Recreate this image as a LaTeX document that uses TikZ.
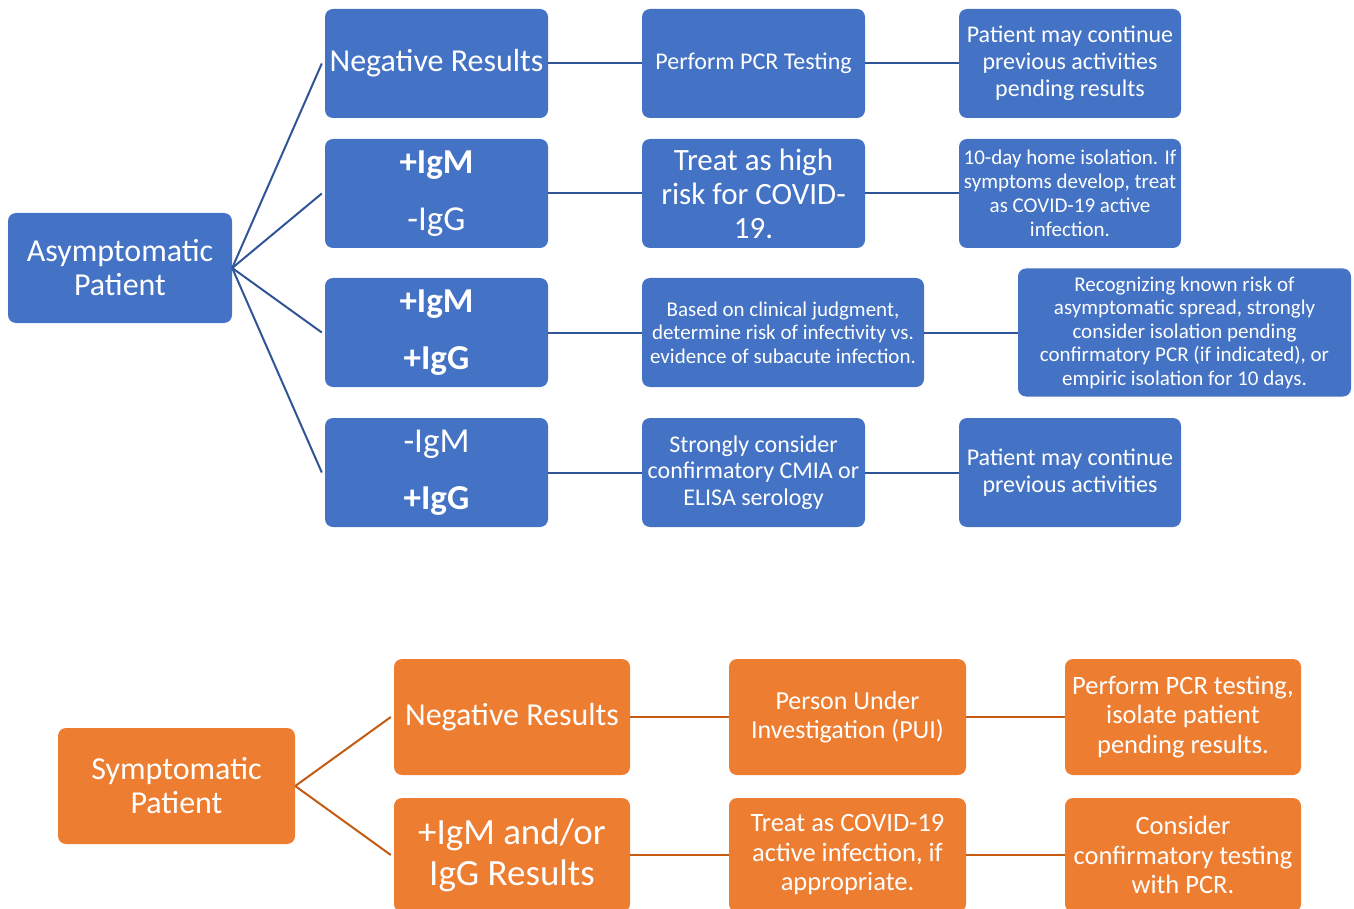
\documentclass[tikz,border=0pt]{standalone}
\usepackage{fontspec}
\setmainfont{Carlito}
\definecolor{boxblue}{HTML}{4472C4}
\definecolor{lineblue}{HTML}{2F5597}
\definecolor{boxorange}{HTML}{ED7D31}
\definecolor{lineorange}{HTML}{C55A11}
\newcommand{\fsz}[2]{\fontsize{#1pt}{#2pt}\selectfont}
\tikzset{
  box/.style={rectangle, rounded corners=8pt, fill=boxblue, text=white,
    align=center, inner sep=0pt, minimum width=223pt, minimum height=109pt},
  obox/.style={box, fill=boxorange, minimum width=236pt, minimum height=116pt},
  link/.style={lineblue, line width=2pt},
  olink/.style={lineorange, line width=2pt}
}
\begin{document}
\begin{tikzpicture}[x=1pt, y=-1pt]
\useasboundingbox (0,0) rectangle (1354,909);

% Asymptomatic branch
\node[box, minimum width=224pt, minimum height=110pt, font=\fsz{32}{34}] (asym) at (120,268)
  {Asymptomatic\\Patient};

\node[box, font=\fsz{32}{34}] (neg) at (436.5,63.5) {Negative Results};
\node[box, font=\fsz{35}{57}] (mg) at (436.5,193.5) {\textbf{+IgM}\\-IgG};
\node[box, font=\fsz{35}{57}] (mpgp) at (436.5,332.5) {\textbf{+IgM}\\\textbf{+IgG}};
\node[box, font=\fsz{35}{57}] (gp) at (436.5,472.5) {-IgM\\\textbf{+IgG}};

\node[box, font=\fsz{24}{27}] (pcr) at (753.5,63.5) {Perform PCR Testing};
\node[box, font=\fsz{31}{34}] (high) at (753.5,193.5) {Treat as high\\risk for COVID-\\19.};
\node[box, minimum width=282pt, font=\fsz{21}{23.5}] (judge) at (783,332.5)
  {Based on clinical judgment,\\determine risk of infectivity vs.\\evidence of subacute infection.};
\node[box, font=\fsz{24}{26.5}] (cmia) at (753.5,472.5)
  {Strongly consider\\confirmatory CMIA or\\ELISA serology};

\node[box, minimum width=222pt, font=\fsz{24}{27}] (cont) at (1070,63.5)
  {Patient may continue\\previous activities\\pending results};
\node[box, minimum width=222pt, font=\fsz{21}{24}] (home) at (1070,193.5)
  {10-day home isolation. If\\symptoms develop, treat\\as COVID-19 active\\infection.};
\node[box, minimum width=333pt, minimum height=128pt, font=\fsz{21}{23.5}] (recog) at (1184.5,332.5)
  {Recognizing known risk of\\asymptomatic spread, strongly\\consider isolation pending\\confirmatory PCR (if indicated), or\\empiric isolation for 10 days.};
\node[box, minimum width=222pt, font=\fsz{24}{27}] (contb) at (1070,472.5)
  {Patient may continue\\previous activities};

\foreach \n in {neg,mg,mpgp,gp}
  \draw[link] (asym.east) -- ([xshift=-3pt]\n.west);
\draw[link] (neg) -- (pcr) (pcr) -- (cont);
\draw[link] (mg) -- (high) (high) -- (home);
\draw[link] (mpgp) -- (judge) (judge) -- (recog);
\draw[link] (gp) -- (cmia) (cmia) -- (contb);

% Symptomatic branch
\node[obox, minimum width=237pt, font=\fsz{32}{34}] (sym) at (176.5,786) {Symptomatic\\Patient};

\node[obox, font=\fsz{32}{34}] (sneg) at (512,717) {Negative Results};
\node[obox, minimum height=114pt, font=\fsz{37}{41}] (spos) at (512,855) {+IgM and/or\\IgG Results};

\node[obox, minimum width=237pt, font=\fsz{26}{29}] (pui) at (847.5,717) {Person Under\\Investigation (PUI)};
\node[obox, minimum width=237pt, minimum height=114pt, font=\fsz{26.5}{29.5}] (active) at (847.5,855)
  {Treat as COVID-19\\active infection, if\\appropriate.};

\node[obox, font=\fsz{26.5}{29.5}] (ptest) at (1183,717)
  {Perform PCR testing,\\isolate patient\\pending results.};
\node[obox, minimum height=114pt, font=\fsz{26.5}{29.5}] (confirm) at (1183,855)
  {Consider\\confirmatory testing\\with PCR.};

\foreach \n in {sneg,spos}
  \draw[olink] (sym.east) -- ([xshift=-3pt]\n.west);
\draw[olink] (sneg) -- (pui) (pui) -- (ptest);
\draw[olink] (spos) -- (active) (active) -- (confirm);
\end{tikzpicture}
\end{document}
